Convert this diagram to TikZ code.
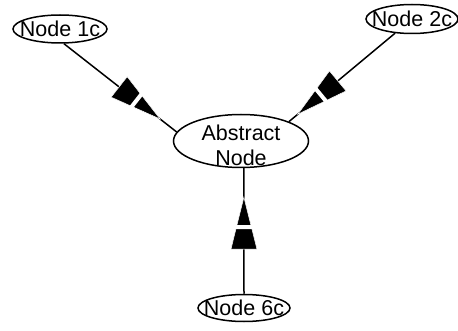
\documentclass[tikz,border=0pt]{standalone}
\usepackage{fontspec}
\setmainfont{Liberation Sans}
\usetikzlibrary{shapes.geometric,decorations.markings}
\tikzset{
  oval/.style={ellipse, draw, line width=1.5pt, inner sep=0pt},
  caption/.style={font=\fontsize{21.5}{25}\selectfont, align=center, inner sep=0pt},
  link/.style={line width=1.5pt, postaction=decorate,
    decoration={markings, mark=at position #1 with {
      \filldraw[fill=black, draw=white, line width=0.5pt] (0pt,-13pt) -- (52pt,0pt) -- (0pt,13pt) -- cycle;
      \draw[white, line width=4pt] (22pt,-10pt) -- (22pt,10pt);}}}
}
\begin{document}
\begin{tikzpicture}[x=1pt, y=-1pt]
  \useasboundingbox (0,0) rectangle (458,331);
  \node (abs) [oval, minimum width=135pt, minimum height=53pt,
               label={[caption, name=tabs, yshift=-4pt]center:Abstract\\Node}] at (241,141) {};
  \node (n1c) [oval, minimum width=94pt, minimum height=28pt,
               label={[caption, name=t1c]center:Node 1c}] at (60,29) {};
  \node (n2c) [oval, minimum width=92pt, minimum height=29pt,
               label={[caption, name=t2c]center:Node 2c}] at (412,19) {};
  \node (n6c) [oval, minimum width=92pt, minimum height=27pt,
               label={[caption, name=t6c]center:Node 6c}] at (244,308) {};
  \draw[link=0.49] (n1c.-75) -- (abs.172);
  \draw[link=0.54] (n2c.-140) -- (abs.22);
  \draw[link=0.355] (n6c.north) -- (abs.-84);
\end{tikzpicture}
\end{document}
